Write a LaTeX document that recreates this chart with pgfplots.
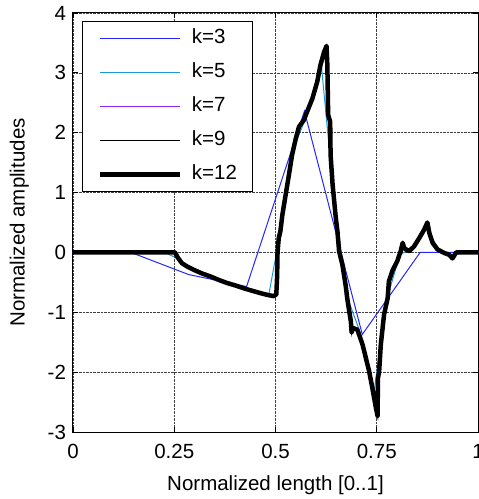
\documentclass[border=0pt]{standalone}
\usepackage{fontspec}
\setmainfont{Liberation Sans}
\usepackage{pgfplots}
\usepackage{pgfplotstable}
\pgfplotsset{compat=1.18}
\usetikzlibrary{calc}

\definecolor{kthree}{rgb}{0.15,0.15,1}
\definecolor{kfive}{rgb}{0.1,0.6,0.85}
\definecolor{kseven}{rgb}{0.55,0.15,1}

% k=3 : 8 samples
\pgfplotstableread{
x y
0.0000 0
0.1429 0
0.2857 -0.37
0.4286 -0.57
0.5714 2.36
0.7143 -1.37
0.8571 0
1.0000 0
}\kthree

% k=5 : 32 samples
\pgfplotstableread{
x y
0.0000 0
0.2258 0
0.2581 -0.10
0.2903 -0.27
0.3226 -0.37
0.3548 -0.46
0.3871 -0.53
0.4194 -0.59
0.4516 -0.65
0.4839 -0.69
0.5161 0.50
0.5484 1.80
0.5806 2.35
0.6129 3.15
0.6452 0.85
0.6774 -0.75
0.7097 -1.35
0.7419 -2.40
0.7742 -0.80
0.8065 -0.05
0.8387 0.10
0.8710 0.42
0.9032 0.05
0.9355 -0.05
0.9677 0
1.0000 0
}\kfive

% k=12 (k=7 and k=9 lie under it)
\pgfplotstableread{
x y
0.000 0
0.252 0
0.258 -0.08
0.269 -0.18
0.283 -0.24
0.298 -0.29
0.318 -0.35
0.339 -0.40
0.360 -0.46
0.380 -0.51
0.400 -0.55
0.422 -0.60
0.442 -0.64
0.463 -0.68
0.480 -0.71
0.496 -0.73
0.502 -0.70
0.504 -0.40
0.505 0
0.508 0.24
0.512 0.35
0.517 0.63
0.525 0.96
0.533 1.29
0.541 1.63
0.550 1.90
0.558 2.10
0.570 2.21
0.578 2.35
0.591 2.57
0.603 2.85
0.611 3.13
0.620 3.35
0.626 3.45
0.628 3.13
0.630 2.30
0.635 2.18
0.636 1.63
0.641 1.13
0.649 0.57
0.653 0.35
0.657 0.02
0.665 -0.20
0.673 -0.54
0.677 -0.76
0.682 -0.98
0.686 -1.15
0.688 -1.34
0.690 -1.26
0.702 -1.29
0.715 -1.54
0.723 -1.76
0.731 -1.98
0.739 -2.26
0.748 -2.60
0.752 -2.73
0.753 -2.10
0.756 -1.98
0.760 -1.54
0.768 -1.04
0.777 -0.76
0.780 -0.48
0.789 -0.30
0.801 -0.14
0.809 0.02
0.814 0.16
0.818 0.07
0.830 0.02
0.842 0.10
0.855 0.24
0.867 0.38
0.875 0.50
0.880 0.32
0.888 0.16
0.900 0.05
0.917 -0.01
0.929 -0.04
0.937 -0.10
0.946 0
1.000 0
}\ktwelve

\begin{document}
\fontsize{20.5bp}{24bp}\selectfont
\begin{tikzpicture}
\begin{axis}[
  scale only axis,
  width=405bp, height=419bp,
  xmin=0, xmax=1, ymin=-3, ymax=4,
  xtick={0,0.25,0.5,0.75,1},
  xticklabels={0,0.25,0.5,0.75,1},
  ytick={-3,-2,-1,0,1,2,3,4},
  yticklabels={-3,-2,-1,0,1,2,3,4},
  tick align=inside, tick pos=both,
  major tick length=5bp,
  tick style={black, line width=0.8bp},
  axis line style={black, line width=1bp},
  grid=major,
  grid style={black!75, densely dotted, line width=0.6bp},
  ticklabel style={font=\fontsize{20.5bp}{24bp}\selectfont},
  label style={font=\fontsize{20.5bp}{24bp}\selectfont},
  xlabel={Normalized length [0..1]},
  ylabel={Normalized amplitudes},
  xticklabel style={yshift=-5bp},
  xlabel style={yshift=-3bp},
  ylabel style={yshift=5bp},
  legend image code/.code={\draw[#1] (0bp,0bp) -- (80bp,0bp);},
  legend style={
    at={(0.0222,0.981)}, anchor=north west,
    draw=black, line width=1bp,
    font=\fontsize{20.5bp}{24bp}\selectfont,
    inner xsep=15bp, inner ysep=8bp,
    row sep=16bp, column sep=10bp,
    nodes={inner sep=0bp, text height=14bp, text depth=4bp},
  },
  legend cell align=left,
]
\addplot[kthree, line width=1bp] table {\kthree};
\addplot[kfive, line width=1bp] table {\kfive};
\addplot[kseven, line width=1bp] table {\ktwelve};
\addplot[black, line width=1bp] table {\ktwelve};
\addplot[black, line width=4.5bp, line join=round] table {\ktwelve};
\legend{k=3, k=5, k=7, k=9, k=12}
\coordinate (bl) at (rel axis cs:0,0);
\coordinate (tr) at (rel axis cs:1,1);
\end{axis}
\pgfresetboundingbox
\path[use as bounding box] ($(bl)+(-73bp,-67bp)$) rectangle ($(tr)+(1bp,13bp)$);
\end{tikzpicture}
\end{document}
